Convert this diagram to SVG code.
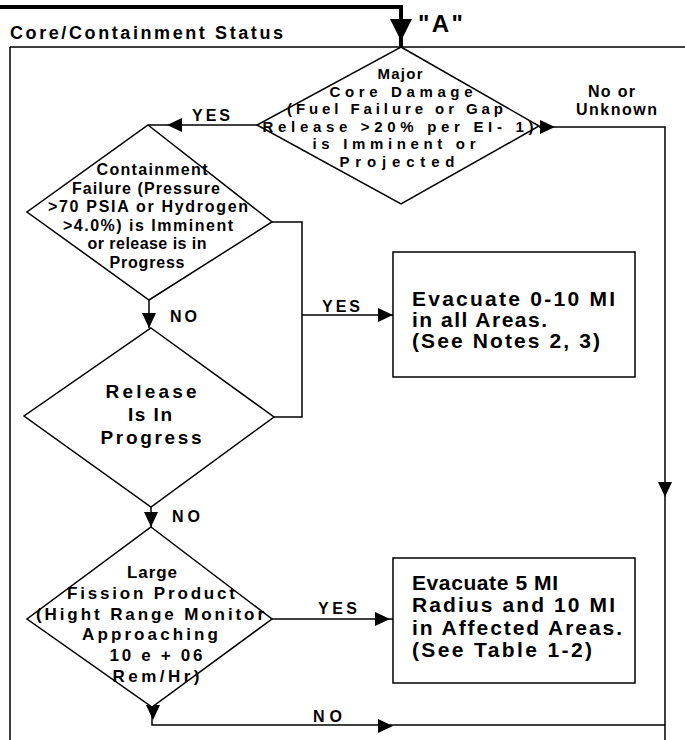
<svg xmlns="http://www.w3.org/2000/svg" width="685" height="740" viewBox="0 0 685 740">
<style>
text { font-family: "Liberation Sans", Arial, sans-serif; font-weight: bold; fill: #000; }
.m { font-size: 15px; text-anchor: middle; }
.d { font-size: 16px; text-anchor: middle; }
.f { font-size: 17px; text-anchor: middle; }
.r { font-size: 19px; text-anchor: middle; }
.b { font-size: 21px; }
.lb { font-size: 16px; }
.t { font-size: 18px; }
.shape { fill: #fff; stroke: #000; stroke-width: 1.5; }
.ln { fill: none; stroke: #000; stroke-width: 1.5; }
.thick { fill: none; stroke: #000; stroke-width: 4; }
</style>
<defs>
<polygon id="ah" points="0,0 -15,-7 -15,7" fill="#000"/>
</defs>
<rect width="685" height="740" fill="#fff"/>

<g id="frame">
<path class="thick" d="M0,7 H401 V47"/>
<polygon points="390,19 412,19 401,41" fill="#000"/>
<text x="418" y="32" style="font-size:24px" textLength="45" lengthAdjust="spacing">"A"</text>
<text x="10" y="39" class="t" textLength="273" lengthAdjust="spacing">Core/Containment Status</text>
<path class="ln" d="M10,47 H685 M10,47 V740"/>
</g>

<g id="connectors">
<path class="ln" d="M257,125 H148"/>
<path class="ln" d="M539,127 H665 V740"/>
<path class="ln" d="M272,222 H302 V417 H274"/>
<path class="ln" d="M302,315 H393"/>
<path class="ln" d="M149,300 V328"/>
<path class="ln" d="M151,507 V527"/>
<path class="ln" d="M272,619 H393"/>
<path class="ln" d="M152,707 V725 H665"/>
<use href="#ah" transform="translate(167,125) rotate(180)"/>
<use href="#ah" transform="translate(555,127)"/>
<use href="#ah" transform="translate(149,328) rotate(90)"/>
<use href="#ah" transform="translate(393,315)"/>
<use href="#ah" transform="translate(665,497) rotate(90)"/>
<use href="#ah" transform="translate(151,527) rotate(90)"/>
<use href="#ah" transform="translate(390,619)"/>
<use href="#ah" transform="translate(153,720) rotate(90)"/>
<use href="#ah" transform="translate(393,726)"/>
<text x="192" y="121" class="lb" textLength="38" lengthAdjust="spacing">YES</text>
<text x="588" y="97" class="lb" textLength="47" lengthAdjust="spacing">No or</text>
<text x="576" y="115" class="lb" textLength="81" lengthAdjust="spacing">Unknown</text>
<text x="322" y="312" class="lb" textLength="38" lengthAdjust="spacing">YES</text>
<text x="170" y="322" class="lb" textLength="27" lengthAdjust="spacing">NO</text>
<text x="172" y="522" class="lb" textLength="28" lengthAdjust="spacing">NO</text>
<text x="318" y="614" class="lb" textLength="39" lengthAdjust="spacing">YES</text>
<text x="313" y="722" class="lb" textLength="29" lengthAdjust="spacing">NO</text>
</g>

<g id="core-damage">
<polygon class="shape" points="401,47 539,126 401,204 257,125"/>
<text x="400" y="79" class="m" textLength="45" lengthAdjust="spacing">Major</text>
<text x="401" y="96.5" class="m" textLength="143" lengthAdjust="spacing">Core Damage</text>
<text x="395" y="114" class="m" textLength="216" lengthAdjust="spacing">(Fuel Failure or Gap</text>
<text x="398" y="131.5" class="m" textLength="271" lengthAdjust="spacing">Release &gt;20% per EI- 1)</text>
<text x="394" y="149" class="m" textLength="163" lengthAdjust="spacing">is Imminent or</text>
<text x="397" y="166.5" class="m" textLength="115" lengthAdjust="spacing">Projected</text>
</g>

<g id="containment-failure">
<polygon class="shape" points="148,125 272,222 149,300 27,212"/>
<text x="152" y="175" class="d" textLength="111" lengthAdjust="spacing">Containment</text>
<text x="146" y="193.5" class="d" textLength="148" lengthAdjust="spacing">Failure (Pressure</text>
<text x="148" y="212" class="d" textLength="200" lengthAdjust="spacing">&gt;70 PSIA or Hydrogen</text>
<text x="148" y="230.5" class="d" textLength="170" lengthAdjust="spacing">&gt;4.0%) is Imminent</text>
<text x="147" y="249" class="d" textLength="119" lengthAdjust="spacing">or release is in</text>
<text x="147" y="267.5" class="d" textLength="75" lengthAdjust="spacing">Progress</text>
</g>

<g id="release">
<polygon class="shape" points="151,328 274,417 151,507 24,416"/>
<text x="151" y="398" class="r" textLength="91" lengthAdjust="spacing">Release</text>
<text x="150" y="421" class="r" textLength="44" lengthAdjust="spacing">Is In</text>
<text x="151" y="444" class="r" textLength="101" lengthAdjust="spacing">Progress</text>
</g>

<g id="fission-product">
<polygon class="shape" points="151,527 272,619 152,707 27,619"/>
<text x="152" y="578" class="f" textLength="50" lengthAdjust="spacing">Large</text>
<text x="151" y="599" class="f" textLength="168" lengthAdjust="spacing">Fission Product</text>
<text x="150" y="620" class="f" textLength="228" lengthAdjust="spacing">(Hight Range Monitor</text>
<text x="150" y="640" class="f" textLength="136" lengthAdjust="spacing">Approaching</text>
<text x="156" y="661" class="f" textLength="93" lengthAdjust="spacing">10 e + 06</text>
<text x="156" y="682" class="f" textLength="87" lengthAdjust="spacing">Rem/Hr)</text>
</g>

<g id="evacuate-10">
<rect class="shape" x="393" y="252" width="242" height="125"/>
<text x="412" y="306" class="b" textLength="203" lengthAdjust="spacing">Evacuate 0-10 MI</text>
<text x="412" y="327" class="b" textLength="135" lengthAdjust="spacing">in all Areas.</text>
<text x="412" y="348" class="b" textLength="188" lengthAdjust="spacing">(See Notes 2, 3)</text>
</g>

<g id="evacuate-5">
<rect class="shape" x="393" y="558" width="242" height="125"/>
<text x="412" y="590" class="b" textLength="146" lengthAdjust="spacing">Evacuate 5 MI</text>
<text x="412" y="612" class="b" textLength="203" lengthAdjust="spacing">Radius and 10 MI</text>
<text x="412" y="635" class="b" textLength="210" lengthAdjust="spacing">in Affected Areas.</text>
<text x="412" y="657" class="b" textLength="180" lengthAdjust="spacing">(See Table 1-2)</text>
</g>
</svg>
